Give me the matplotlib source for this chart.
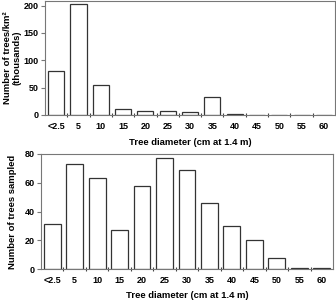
import numpy as np
import matplotlib.pyplot as plt

# Datos
categorias = ["<2.5", "5", "10", "15", "20", "25", "30", "35", "40", "45", "50", "55", "60"]
densidad_miles = [80, 203, 54, 10, 8, 8, 6, 32, 1, 0, 0, 0, 0]
arboles_muestreados = [31, 73, 63, 27, 58, 77, 69, 46, 30, 20, 8, 1, 1]

plt.rcParams['font.family'] = ['Liberation Sans', 'DejaVu Sans']
plt.rcParams['font.weight'] = 'bold'
plt.rcParams['axes.labelweight'] = 'bold'
plt.rcParams['font.size'] = 6.5
plt.rcParams['axes.labelsize'] = 6.8

fig = plt.figure(figsize=(3.36, 3.0), dpi=100)
ax1 = fig.add_axes([0.134, 0.617, 0.863, 0.381])
ax2 = fig.add_axes([0.122, 0.103, 0.869, 0.384])

x = np.arange(len(categorias))
marco = "#777777"


def estilo(ax):
    ax.set_xlim(-0.5, len(categorias) - 0.5)
    ax.set_xticks(x)
    ax.set_xticklabels(categorias)
    ax.set_xticks(x[:-1] + 0.5, minor=True)
    ax.tick_params(axis="x", which="major", length=0, pad=5)
    ax.tick_params(axis="x", which="minor", length=3, direction="inout", color="#444444", width=0.8)
    ax.tick_params(axis="y", length=3, width=0.8, color=marco, pad=1.5)
    for s in ax.spines.values():
        s.set_color(marco)
        s.set_linewidth(0.8)


ax1.bar(x, densidad_miles, width=0.72, color="white", edgecolor="#333333", linewidth=0.9)
estilo(ax1)
ax1.set_ylim(0, 209)
ax1.set_yticks([0, 50, 100, 150, 200])
ax1.set_xlabel("Tree diameter (cm at 1.4 m)", labelpad=5)
ax1.set_ylabel("Number of trees/km²\n(thousands)", linespacing=1.05)
ax1.yaxis.set_label_coords(-0.08, 0.5)

ax2.bar(x, arboles_muestreados, width=0.75, color="white", edgecolor="#333333", linewidth=0.9)
estilo(ax2)
ax2.set_ylim(0, 80)
ax2.set_yticks([0, 20, 40, 60, 80])
ax2.set_xlabel("Tree diameter (cm at 1.4 m)", labelpad=4)
ax2.set_ylabel("Number of trees sampled")
ax2.yaxis.set_label_coords(-0.082, 0.5)

fig.savefig("out.png", dpi=100)
